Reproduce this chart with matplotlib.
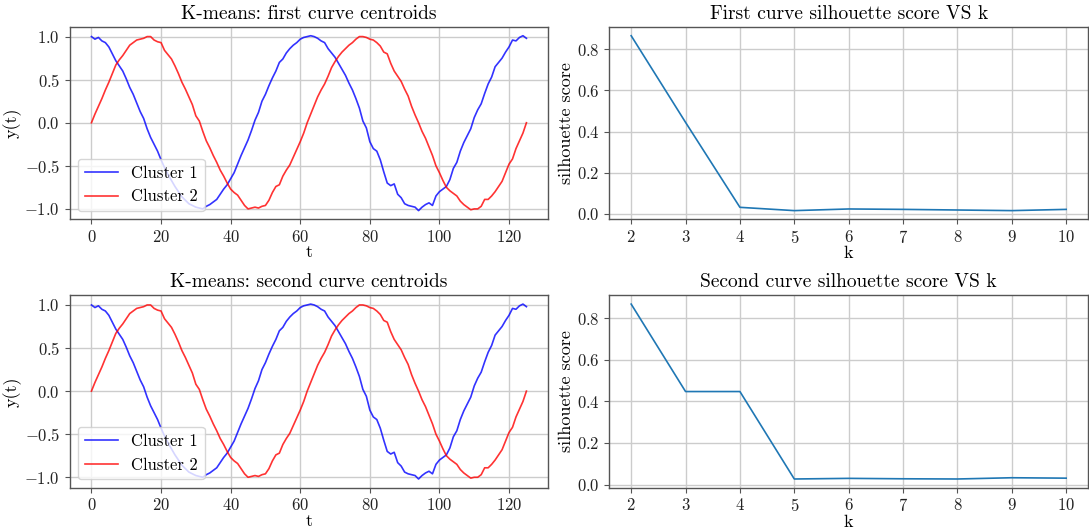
import numpy as np
import matplotlib
matplotlib.use("Agg")
import matplotlib.pyplot as plt

# Centroidi (t = 0..125)
t = np.arange(126)
cluster1 = [
    1.00, 0.97, 0.99, 0.95, 0.93, 0.88, 0.80, 0.72, 0.66, 0.60,
    0.51, 0.41, 0.33, 0.23, 0.13, 0.05, -0.07, -0.17, -0.25, -0.33,
    -0.43, -0.52, -0.60, -0.67, -0.74, -0.80, -0.86, -0.90, -0.94, -0.96,
    -0.98, -0.99, -1.00, -0.97, -0.95, -0.92, -0.89, -0.83, -0.77, -0.72,
    -0.65, -0.58, -0.48, -0.38, -0.29, -0.20, -0.09, 0.03, 0.12, 0.25,
    0.33, 0.43, 0.52, 0.60, 0.70, 0.74, 0.81, 0.86, 0.90, 0.93,
    0.97, 0.99, 1.00, 1.01, 1.00, 0.98, 0.95, 0.93, 0.86, 0.81,
    0.76, 0.69, 0.62, 0.55, 0.46, 0.38, 0.28, 0.17, 0.02, -0.06,
    -0.22, -0.30, -0.33, -0.43, -0.57, -0.70, -0.73, -0.71, -0.83, -0.87,
    -0.94, -0.96, -0.97, -0.98, -1.02, -0.98, -0.95, -0.93, -0.96, -0.85,
    -0.80, -0.77, -0.74, -0.66, -0.53, -0.46, -0.33, -0.23, -0.15, -0.07,
    0.06, 0.15, 0.22, 0.34, 0.45, 0.53, 0.65, 0.70, 0.75, 0.82,
    0.88, 0.96, 0.95, 0.99, 1.01, 0.98,
]
cluster2 = [
    0.00, 0.10, 0.19, 0.28, 0.38, 0.47, 0.57, 0.67, 0.73, 0.78,
    0.84, 0.90, 0.93, 0.96, 0.97, 0.98, 1.00, 1.00, 0.96, 0.94,
    0.93, 0.84, 0.79, 0.74, 0.66, 0.57, 0.47, 0.39, 0.30, 0.21,
    0.08, 0.02, -0.10, -0.21, -0.29, -0.38, -0.46, -0.55, -0.62, -0.70,
    -0.77, -0.81, -0.84, -0.90, -0.96, -1.00, -0.99, -0.98, -0.99, -0.97,
    -0.96, -0.90, -0.81, -0.74, -0.72, -0.62, -0.55, -0.49, -0.40, -0.31,
    -0.22, -0.12, 0.00, 0.10, 0.20, 0.30, 0.38, 0.45, 0.54, 0.64,
    0.71, 0.77, 0.82, 0.86, 0.90, 0.93, 0.97, 1.00, 1.00, 0.99,
    0.97, 0.96, 0.93, 0.89, 0.82, 0.80, 0.69, 0.60, 0.54, 0.48,
    0.39, 0.31, 0.19, 0.09, 0.00, -0.10, -0.18, -0.28, -0.38, -0.50,
    -0.58, -0.67, -0.75, -0.79, -0.82, -0.85, -0.91, -0.95, -0.98, -1.01,
    -1.00, -1.00, -0.97, -0.89, -0.89, -0.85, -0.80, -0.74, -0.68, -0.58,
    -0.48, -0.42, -0.30, -0.21, -0.12, 0.00,
]

# Silhouette score per k
k_values = [2, 3, 4, 5, 6, 7, 8, 9, 10]
sil_first = [0.866, 0.445, 0.032, 0.016, 0.024, 0.022, 0.019, 0.016, 0.022]
sil_second = [0.867, 0.447, 0.447, 0.027, 0.030, 0.028, 0.027, 0.033, 0.031]

plt.rcParams['font.family'] = 'cmr10'
plt.rcParams['mathtext.fontset'] = 'cm'
plt.rcParams['axes.formatter.use_mathtext'] = True
plt.rcParams['axes.edgecolor'] = '#555555'
plt.rcParams['axes.linewidth'] = 1.0
plt.rcParams['grid.color'] = '#cccccc'
plt.rcParams['grid.linewidth'] = 1.0
plt.rcParams['xtick.color'] = '#555555'
plt.rcParams['ytick.color'] = '#555555'
plt.rcParams['xtick.labelcolor'] = '#222222'
plt.rcParams['ytick.labelcolor'] = '#222222'

fig, axs = plt.subplots(2, 2, figsize=(10.89, 5.29), dpi=100)
fig.subplots_adjust(left=0.064, right=0.999, top=0.949, bottom=0.078,
                    wspace=0.128, hspace=0.395)

titoli_sx = ['K-means: first curve centroids', 'K-means: second curve centroids']
titoli_dx = ['First curve silhouette score VS k', 'Second curve silhouette score VS k']

for i in range(2):
    ax = axs[i, 0]
    ax.plot(t, cluster1, color='blue', alpha=0.8, lw=1.2, label='Cluster 1')
    ax.plot(t, cluster2, color='red', alpha=0.8, lw=1.2, label='Cluster 2')
    ax.set_title(titoli_sx[i], fontsize=14)
    ax.set_xlabel('t', fontsize=13, labelpad=0)
    ax.set_ylabel('y(t)', fontsize=13, labelpad=2)
    ax.set_xticks([0, 20, 40, 60, 80, 100, 120])
    ax.set_yticks([-1.0, -0.5, 0.0, 0.5, 1.0])
    ax.tick_params(labelsize=12)
    ax.grid(True)
    ax.legend(loc='lower left', fontsize=12)

for i, sil in enumerate([sil_first, sil_second]):
    ax = axs[i, 1]
    ax.plot(k_values, sil, color='#1f77b4', lw=1.2)
    ax.set_title(titoli_dx[i], fontsize=14)
    ax.set_xlabel('k', fontsize=13, labelpad=0)
    ax.set_ylabel('silhouette score', fontsize=13, labelpad=2)
    ax.set_xticks(k_values)
    ax.set_yticks([0.0, 0.2, 0.4, 0.6, 0.8])
    ax.tick_params(labelsize=12)
    ax.grid(True)

plt.savefig('out.png')
